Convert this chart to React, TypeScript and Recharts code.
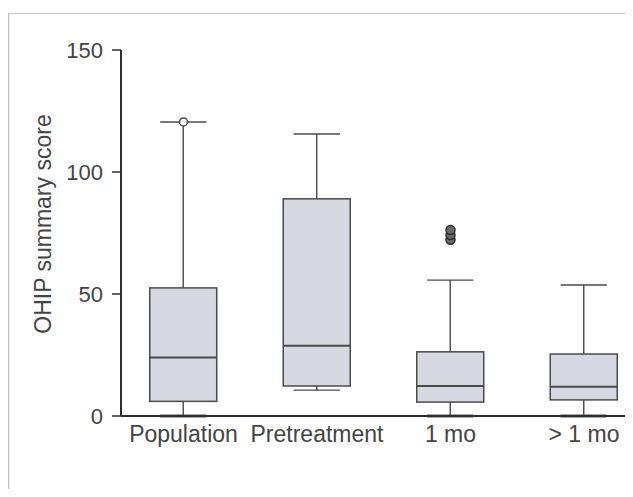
import React from 'react';
import { ComposedChart, Bar, Line, XAxis, YAxis, Label } from 'recharts';

const categories = ['Population', 'Pretreatment', '1 mo', '> 1 mo'];
const whiskerLow = [0, 10.6, 0, 0];
const q1 = [6, 12.3, 5.7, 6.6];
const median = [24, 28.8, 12.3, 12];
const q3 = [52.5, 89, 26.3, 25.4];
const whiskerHigh = [120.5, 115.6, 55.7, 53.7];
const outlierOpen = [120.5, null, null, null];
const outlierFilledA = [null, null, 72.2, null];
const outlierFilledB = [null, null, 74.2, null];
const outlierFilledC = [null, null, 76.2, null];
const yTicks = [0, 50, 100, 150];
const yLabel = 'OHIP summary score';

const data = categories.map((name, i) => ({
  x: i,
  name,
  range: [whiskerLow[i], whiskerHigh[i]],
  low: whiskerLow[i],
  q1: q1[i],
  median: median[i],
  q3: q3[i],
  high: whiskerHigh[i],
  oOpen: outlierOpen[i],
  oA: outlierFilledA[i],
  oB: outlierFilledB[i],
  oC: outlierFilledC[i],
}));

const STROKE = '#4a4a4a';
const FILL = '#d6d9e1';
const TEXT = '#444444';
const FONT = '"Liberation Sans", Arial, Helvetica, sans-serif';

const BoxShape = (props: any) => {
  const { x, y, width, height, payload } = props;
  if (!payload) return null;
  const lo = payload.low;
  const hi = payload.high;
  const top = Math.min(y, y + height);
  const h = Math.abs(height);
  const py = (v: number) => top + ((hi - v) / (hi - lo)) * h;
  const cx = x + width / 2;
  const capHalf = (width * 0.69) / 2;
  return (
    <g>
      <line x1={cx} x2={cx} y1={py(hi)} y2={py(payload.q3)} stroke={STROKE} strokeWidth={1.4} />
      <line x1={cx} x2={cx} y1={py(payload.q1)} y2={py(lo)} stroke={STROKE} strokeWidth={1.4} />
      <line x1={cx - capHalf} x2={cx + capHalf} y1={py(hi)} y2={py(hi)} stroke={STROKE} strokeWidth={1.4} />
      <line x1={cx - capHalf} x2={cx + capHalf} y1={py(lo)} y2={py(lo)} stroke={STROKE} strokeWidth={lo === 0 ? 3 : 1.4} />
      <rect
        x={x}
        y={py(payload.q3)}
        width={width}
        height={py(payload.q1) - py(payload.q3)}
        fill={FILL}
        stroke={STROKE}
        strokeWidth={1.5}
      />
      <line x1={x} x2={x + width} y1={py(payload.median)} y2={py(payload.median)} stroke={STROKE} strokeWidth={2} />
    </g>
  );
};

const YLabelContent = (props: any) => {
  const vb = props.viewBox || {};
  const cx = 43;
  const cy = vb.y + vb.height / 2 - 9;
  return (
    <text
      x={cx}
      y={cy}
      transform={`rotate(-90 ${cx} ${cy})`}
      textAnchor="middle"
      dominantBaseline="central"
      fill={TEXT}
      fontSize={23}
      fontFamily={FONT}
    >
      {yLabel}
    </text>
  );
};

export default function App() {
  return (
    <div style={{ position: 'relative', margin: -8, width: 633, height: 497, background: '#fff', overflow: 'hidden' }}>
      <div style={{ position: 'absolute', left: 0, top: 0 }}>
        <ComposedChart
          width={633}
          height={497}
          data={data}
          margin={{ top: 50, right: 0, bottom: 51, left: 41 }}
        >
          <XAxis
            type="number"
            dataKey="x"
            height={30}
            domain={[-0.468, 3.367]}
            ticks={[0, 1, 2, 3]}
            tickFormatter={(v: number) => categories[v] ?? ''}
            allowDataOverflow
            interval={0}
            tickLine={false}
            tickSize={0}
            tickMargin={10}
            axisLine={{ stroke: '#2e2e2e', strokeWidth: 2 }}
            tick={{ fill: TEXT, fontSize: 23, fontFamily: FONT }}
          />
          <YAxis
            type="number"
            domain={[0, 150]}
            ticks={yTicks}
            width={80}
            tickSize={9}
            tickMargin={9}
            axisLine={{ stroke: '#2e2e2e', strokeWidth: 2 }}
            tickLine={{ stroke: '#2e2e2e', strokeWidth: 1.5 }}
            tick={{ fill: TEXT, fontSize: 22, fontFamily: FONT }}
          >
            <Label content={<YLabelContent />} />
          </YAxis>
          <Bar dataKey="range" barSize={67} shape={<BoxShape />} isAnimationActive={false} />
          <Line dataKey="oOpen" stroke="none" dot={{ r: 4, fill: '#fff', stroke: STROKE, strokeWidth: 1.5 }} activeDot={false} isAnimationActive={false} />
          <Line dataKey="oA" stroke="none" dot={{ r: 4.5, fill: '#6a6a6a', stroke: '#2e2e2e', strokeWidth: 1.5 }} activeDot={false} isAnimationActive={false} />
          <Line dataKey="oB" stroke="none" dot={{ r: 4.5, fill: '#6a6a6a', stroke: '#2e2e2e', strokeWidth: 1.5 }} activeDot={false} isAnimationActive={false} />
          <Line dataKey="oC" stroke="none" dot={{ r: 4.5, fill: '#6a6a6a', stroke: '#2e2e2e', strokeWidth: 1.5 }} activeDot={false} isAnimationActive={false} />
        </ComposedChart>
      </div>
      <svg
        width={633}
        height={497}
        style={{ position: 'absolute', left: 0, top: 0, zIndex: 2, pointerEvents: 'none' }}
      >
        <line x1={8.5} y1={13} x2={8.5} y2={494} stroke="#c0c0c0" strokeWidth={1.5} />
        <line x1={6} y1={13.5} x2={633} y2={13.5} stroke="#c4c4c4" strokeWidth={1} />
      </svg>
    </div>
  );
}
